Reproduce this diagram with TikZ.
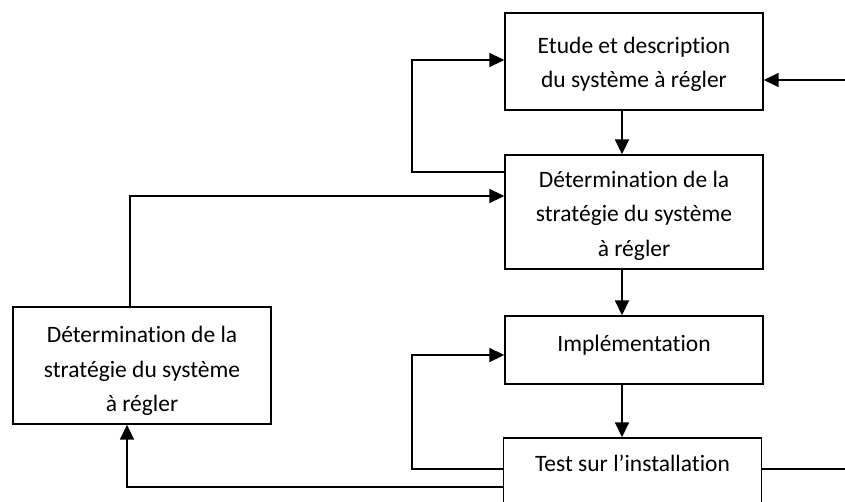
\documentclass[tikz,border=0pt]{standalone}
\usepackage{fontspec}
\setmainfont{Carlito}[Ligatures=NoCommon]
\usetikzlibrary{arrows.meta}
\begin{document}
\begin{tikzpicture}[x=1pt,y=-1pt,
  box/.style={draw, line width=1.4pt, minimum width=258pt, inner sep=0pt,
    align=center, font=\fontsize{23.5}{34.5}\selectfont},
  link/.style={line width=1.8pt, -{Triangle[length=15pt,width=14pt]}},
  wire/.style={line width=1.8pt}]
\useasboundingbox (0,0) rectangle (845,502);
\clip (0,0) rectangle (845,502);

% process boxes
\node[box, minimum height=97, text height=57pt] (etude) at (634,61.5)
  {Etude et description\\du système à régler};
\node[box, minimum height=114, text height=93pt] (strat) at (634,212)
  {Détermination de la\\stratégie du système\\à régler};
\node[box, minimum height=68, text depth=14pt] (impl) at (634,350)
  {Implémentation};
\node[box, minimum height=68, text depth=18pt] (test) at (632.5,472)
  {Test sur l’installation};
\node[box, minimum height=117, text height=96.5pt] (alt) at (142,365.5)
  {Détermination de la\\stratégie du système\\à régler};

% free ends on the right border
\coordinate (inR) at (845,80);
\coordinate (outR) at (845,469);

% main chain
\draw[link] (inR) -- (etude.east |- inR);
\draw[link] (etude.south -| 622,0) -- (strat.north -| 622,0);
\draw[link] (strat.south -| 622,0) -- (impl.north -| 622,0);
\draw[link] (impl.south -| 622,0) -- (test.north -| 622,0);

% feedback loops
\draw[link] (strat.west |- 0,172) -- (412,172) |- (etude.west |- 0,60);
\draw[link] (alt.north -| 130,0) |- (strat.west |- 0,196);
\draw[link] (test.west |- 0,469) -- (412,469) |- (impl.west |- 0,355);
\draw[link] (test.west |- 0,487) -| (alt.south -| 127,0);
\draw[wire] (test.east |- outR) -- (outR);
\end{tikzpicture}
\end{document}
